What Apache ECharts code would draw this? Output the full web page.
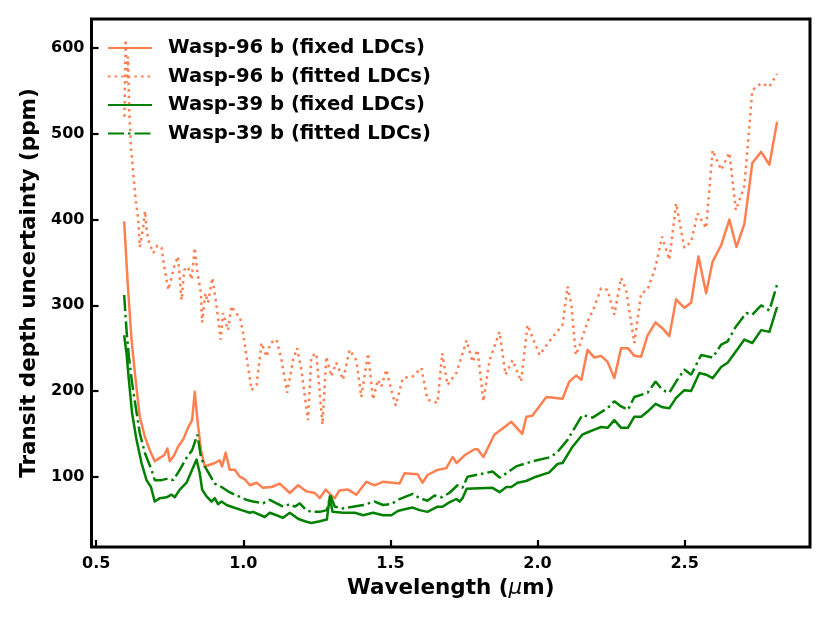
<!DOCTYPE html>
<html>
<head>
<meta charset="utf-8">
<script src="https://cdn.jsdelivr.net/npm/echarts@6/dist/echarts.min.js"></script>
<style>html,body{margin:0;padding:0;background:#fff}#c{width:830px;height:623px}</style>
</head>
<body>
<div id="c"></div>
<script>
const seriesNames = ["Wasp-96 b (fixed LDCs)", "Wasp-96 b (fitted LDCs)", "Wasp-39 b (fixed LDCs)", "Wasp-39 b (fitted LDCs)"];
const xTicks = [0.5, 1.0, 1.5, 2.0, 2.5];
const yTicks = [100, 200, 300, 400, 500, 600];

const w96FixedWave = [0.595,0.607,0.620,0.634,0.648,0.665,0.682,0.699,0.716,0.731,0.742,0.750,0.765,0.778,0.795,0.812,0.826,0.835,0.844,0.856,0.869,0.886,0.903,0.920,0.928,0.940,0.954,0.971,0.988,1.005,1.022,1.045,1.067,1.096,1.124,1.158,1.186,1.214,1.243,1.260,1.280,1.296,1.311,1.327,1.356,1.384,1.418,1.446,1.474,1.507,1.531,1.548,1.592,1.609,1.626,1.660,1.690,1.711,1.725,1.752,1.786,1.796,1.816,1.853,1.880,1.911,1.948,1.962,1.982,2.030,2.085,2.108,2.131,2.149,2.170,2.193,2.216,2.238,2.261,2.284,2.307,2.329,2.352,2.374,2.401,2.425,2.448,2.471,2.499,2.522,2.547,2.573,2.595,2.624,2.652,2.676,2.703,2.730,2.760,2.788,2.814];
const w96Fixed = [398,326,260,213,170,147,131,118,122,125,133,118,125,135,143,157,166,199,166,131,112,114,116,119,112,128,108,108,100,97,90,93,87,88,92,81,90,83,81,75,85,79,75,84,85,79,94,90,94,93,92,104,103,93,102,108,110,123,116,125,132,132,123,149,156,164,150,170,171,193,191,211,218,213,248,239,241,234,215,250,250,241,240,265,280,273,264,307,297,303,357,314,351,370,400,368,395,466,479,464,514];

const w96FitWave = [0.596,0.600,0.604,0.608,0.612,0.618,0.626,0.634,0.643,0.648,0.660,0.666,0.671,0.677,0.694,0.708,0.722,0.733,0.745,0.754,0.765,0.778,0.790,0.799,0.812,0.824,0.835,0.844,0.856,0.860,0.871,0.880,0.895,0.909,0.923,0.931,0.948,0.960,0.973,0.988,0.999,1.011,1.028,1.045,1.062,1.079,1.092,1.113,1.130,1.149,1.169,1.183,1.197,1.220,1.231,1.248,1.269,1.282,1.299,1.316,1.339,1.361,1.384,1.401,1.424,1.441,1.457,1.469,1.486,1.503,1.518,1.542,1.576,1.605,1.626,1.660,1.676,1.694,1.724,1.759,1.779,1.796,1.816,1.837,1.871,1.891,1.915,1.944,1.966,2.007,2.040,2.085,2.102,2.115,2.130,2.142,2.153,2.170,2.193,2.216,2.238,2.261,2.284,2.301,2.329,2.352,2.374,2.401,2.423,2.448,2.471,2.499,2.522,2.544,2.573,2.595,2.624,2.652,2.674,2.703,2.730,2.760,2.788,2.814];
const w96Fit = [520,610,560,590,530,485,454,423,400,368,392,410,390,376,361,370,367,341,318,330,345,357,306,341,345,330,367,338,314,280,314,303,332,299,260,291,271,299,291,287,269,240,201,207,256,240,256,260,236,198,236,250,225,166,240,244,161,240,217,233,213,248,236,193,244,190,213,205,225,201,183,215,217,227,190,186,244,207,221,259,234,248,188,236,269,219,236,211,277,242,258,277,322,300,242,252,263,281,298,320,318,289,332,318,256,314,318,345,380,353,419,367,374,407,390,481,458,478,411,439,551,559,555,570];

const w39FixedWave = [0.595,0.603,0.611,0.622,0.637,0.654,0.671,0.686,0.699,0.716,0.739,0.756,0.767,0.784,0.807,0.826,0.841,0.852,0.860,0.875,0.892,0.903,0.914,0.926,0.943,0.960,0.994,1.022,1.033,1.073,1.090,1.113,1.135,1.158,1.186,1.209,1.231,1.260,1.284,1.294,1.303,1.339,1.379,1.407,1.441,1.475,1.503,1.525,1.548,1.576,1.599,1.626,1.660,1.677,1.700,1.724,1.735,1.745,1.759,1.847,1.871,1.894,1.911,1.932,1.961,1.995,2.040,2.068,2.085,2.119,2.152,2.165,2.193,2.216,2.238,2.261,2.284,2.307,2.329,2.352,2.374,2.401,2.425,2.448,2.471,2.499,2.522,2.550,2.573,2.595,2.624,2.646,2.674,2.703,2.730,2.760,2.788,2.814];
const w39Fixed = [265,244,213,174,143,116,96,88,71,75,76,79,76,85,93,108,120,104,85,77,71,75,68,71,67,65,61,58,59,53,58,55,52,58,51,48,46,48,50,77,59,58,58,55,58,55,55,60,62,64,61,59,65,65,70,74,71,75,86,87,82,88,88,93,95,100,105,115,116,135,149,151,155,158,157,166,157,157,170,170,176,185,181,180,192,201,200,221,219,215,228,233,246,260,256,271,269,298];

const w39FitWave = [0.595,0.603,0.611,0.622,0.634,0.648,0.665,0.688,0.699,0.722,0.745,0.762,0.784,0.807,0.826,0.844,0.856,0.869,0.886,0.903,0.926,0.948,0.971,1.011,1.033,1.067,1.090,1.113,1.135,1.158,1.175,1.192,1.214,1.231,1.260,1.284,1.296,1.311,1.339,1.373,1.407,1.446,1.475,1.503,1.525,1.554,1.576,1.599,1.626,1.650,1.673,1.700,1.728,1.745,1.762,1.847,1.871,1.894,1.927,1.983,2.046,2.068,2.102,2.152,2.187,2.238,2.261,2.284,2.307,2.329,2.374,2.401,2.425,2.448,2.471,2.499,2.522,2.556,2.595,2.624,2.646,2.674,2.709,2.730,2.760,2.788,2.814];
const w39Fit = [312,271,240,209,182,151,128,108,96,96,98,96,108,122,131,149,123,112,102,92,88,83,79,73,71,69,73,69,65,68,65,69,61,59,59,61,78,65,63,65,67,71,67,68,73,77,80,75,72,78,76,81,90,87,100,106,99,104,112,118,123,129,143,172,169,180,188,182,178,193,198,211,201,198,211,225,219,242,239,254,258,275,291,289,300,294,324];

function pairs(xs, ys) { return xs.map((x, i) => [x, ys[i]]); }

const ORANGE = '#FF7F50';
const GREEN = '#008000';
const LW = 2.5;
const font = 'DejaVu Sans';

const chart = echarts.init(document.getElementById('c'), null, { renderer: 'canvas' });
chart.setOption({
  animation: false,
  backgroundColor: '#fff',
  grid: { left: 91.5, top: 19, right: 20, bottom: 76, show: true, borderColor: '#000', borderWidth: 3, backgroundColor: 'transparent', containLabel: false },
  legend: {
    data: seriesNames,
    orient: 'vertical',
    left: 102,
    top: 33,
    itemWidth: 44,
    itemHeight: 18,
    itemGap: 8.5,
    itemStyle: { opacity: 0 },
    textStyle: { fontFamily: font, fontWeight: 'bold', fontSize: 19.6, color: '#000', padding: [0, 0, 0, 11] }
  },
  xAxis: {
    type: 'value',
    min: 0.484,
    max: 2.926,
    name: 'Wavelength ({i|μ}m)',
    nameLocation: 'middle',
    nameGap: 30,
    nameTextStyle: { fontFamily: font, fontWeight: 'bold', fontSize: 21.5, color: '#000', rich: { i: { fontFamily: font, fontStyle: 'italic', fontWeight: 'normal', fontSize: 21.5, color: '#000' } } },
    splitLine: { show: false },
    axisLine: { show: false },
    axisTick: { show: true, inside: true, length: 7, lineStyle: { color: '#000', width: 2.2 }, customValues: xTicks },
    axisLabel: { fontFamily: font, fontWeight: 'bold', fontSize: 16, color: '#000', margin: 9, customValues: xTicks, formatter: v => v.toFixed(1) }
  },
  yAxis: {
    type: 'value',
    min: 18,
    max: 634,
    name: 'Transit depth uncertainty (ppm)',
    nameLocation: 'middle',
    nameGap: 50,
    nameTextStyle: { fontFamily: font, fontWeight: 'bold', fontSize: 21.5, color: '#000' },
    splitLine: { show: false },
    axisLine: { show: false },
    axisTick: { show: true, inside: true, length: 7, lineStyle: { color: '#000', width: 2.2 }, customValues: yTicks },
    axisLabel: { fontFamily: font, fontWeight: 'bold', fontSize: 16, color: '#000', margin: 7, customValues: yTicks, formatter: v => String(v) }
  },
  series: [
    { name: seriesNames[0], type: 'line', data: pairs(w96FixedWave, w96Fixed), showSymbol: false, symbol: 'none', color: ORANGE, lineStyle: { color: ORANGE, width: LW, type: 'solid', join: 'round' }, z: 2 },
    { name: seriesNames[1], type: 'line', data: pairs(w96FitWave, w96Fit), showSymbol: false, symbol: 'none', color: ORANGE, lineStyle: { color: ORANGE, width: LW, type: [2.5, 4.1], cap: 'butt' }, z: 2 },
    { name: seriesNames[2], type: 'line', data: pairs(w39FixedWave, w39Fixed), showSymbol: false, symbol: 'none', color: GREEN, lineStyle: { color: GREEN, width: LW, type: 'solid', join: 'round' }, z: 2 },
    { name: seriesNames[3], type: 'line', data: pairs(w39FitWave, w39Fit), showSymbol: false, symbol: 'none', color: GREEN, lineStyle: { color: GREEN, width: LW, type: [16, 4, 2.5, 4], cap: 'butt' }, z: 2 }
  ]
});
</script>
</body>
</html>
